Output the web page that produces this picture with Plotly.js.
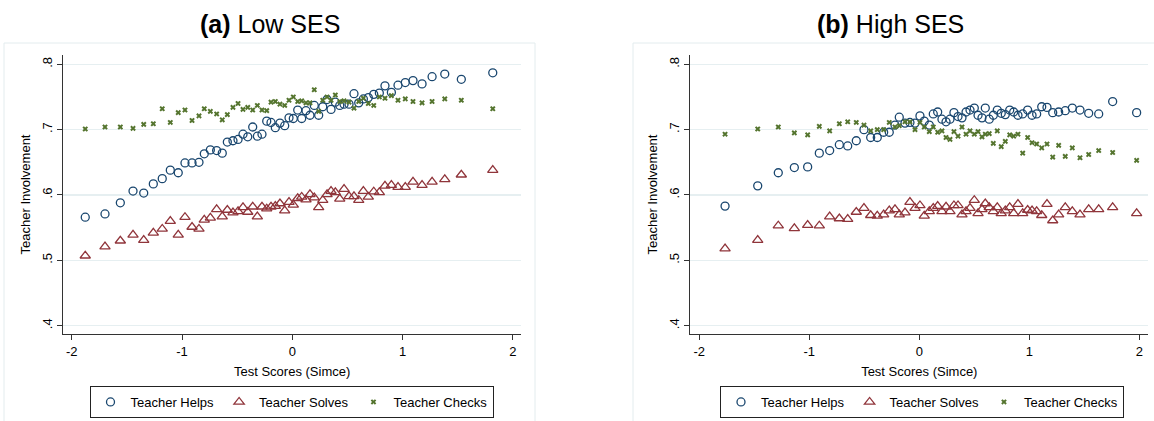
<!DOCTYPE html>
<html>
<head>
<meta charset="utf-8">
<script src="https://cdn.plot.ly/plotly-3.0.1.min.js"></script>
<style>
  html, body { margin: 0; padding: 0; background: #fff; }
  #chart { width: 1154px; height: 421px; }
</style>
</head>
<body>
<div id="chart"></div>
<script>
// --- Data (bin means of test score vs. involvement) ---
const panelTitles = ['<b>(a)</b> Low SES', '<b>(b)</b> High SES'];
const seriesNames = ['Teacher Helps', 'Teacher Solves', 'Teacher Checks'];

const lowX = [-1.877, -1.698, -1.559, -1.444, -1.347, -1.260, -1.179, -1.106, -1.034, -0.973,
  -0.909, -0.846, -0.798, -0.743, -0.686, -0.635, -0.589, -0.538, -0.492, -0.447,
  -0.404, -0.359, -0.317, -0.275, -0.232, -0.193, -0.154, -0.112, -0.069, -0.030,
  0.009, 0.049, 0.085, 0.124, 0.160, 0.199, 0.239, 0.276, 0.315, 0.351,
  0.390, 0.430, 0.469, 0.514, 0.559, 0.602, 0.644, 0.689, 0.738, 0.789,
  0.840, 0.898, 0.958, 1.024, 1.094, 1.176, 1.267, 1.382, 1.532, 1.817];
const lowHelps = [0.566, 0.571, 0.588, 0.606, 0.603, 0.617, 0.625, 0.638, 0.634, 0.649,
  0.649, 0.650, 0.663, 0.669, 0.668, 0.664, 0.681, 0.683, 0.685, 0.693,
  0.689, 0.704, 0.690, 0.693, 0.713, 0.711, 0.703, 0.710, 0.706, 0.718,
  0.717, 0.730, 0.717, 0.729, 0.722, 0.737, 0.722, 0.735, 0.746, 0.731,
  0.742, 0.737, 0.739, 0.739, 0.755, 0.741, 0.747, 0.749, 0.754, 0.756,
  0.767, 0.757, 0.768, 0.772, 0.775, 0.770, 0.781, 0.785, 0.777, 0.787];
const lowSolves = [0.507, 0.521, 0.530, 0.539, 0.531, 0.542, 0.548, 0.560, 0.539, 0.566,
  0.551, 0.548, 0.562, 0.565, 0.578, 0.567, 0.577, 0.573, 0.575, 0.581,
  0.574, 0.582, 0.567, 0.582, 0.579, 0.582, 0.583, 0.587, 0.576, 0.589,
  0.585, 0.595, 0.597, 0.593, 0.601, 0.596, 0.581, 0.592, 0.601, 0.606,
  0.604, 0.594, 0.609, 0.598, 0.598, 0.592, 0.606, 0.597, 0.605, 0.604,
  0.614, 0.615, 0.612, 0.612, 0.620, 0.615, 0.620, 0.624, 0.631, 0.638];
const lowChecks = [0.701, 0.704, 0.704, 0.702, 0.708, 0.709, 0.732, 0.711, 0.726, 0.730,
  0.714, 0.721, 0.732, 0.728, 0.724, 0.715, 0.723, 0.734, 0.740, 0.731,
  0.734, 0.730, 0.737, 0.730, 0.729, 0.742, 0.743, 0.739, 0.737, 0.745,
  0.750, 0.743, 0.744, 0.741, 0.741, 0.761, 0.728, 0.745, 0.750, 0.745,
  0.753, 0.743, 0.744, 0.742, 0.733, 0.743, 0.748, 0.740, 0.737, 0.750,
  0.748, 0.752, 0.745, 0.747, 0.743, 0.741, 0.743, 0.747, 0.745, 0.732];

const highX = [-1.766, -1.469, -1.282, -1.136, -1.015, -0.909, -0.815, -0.727, -0.651, -0.573,
  -0.503, -0.442, -0.382, -0.324, -0.273, -0.221, -0.182, -0.130, -0.085, -0.039,
  0.006, 0.045, 0.091, 0.127, 0.167, 0.206, 0.243, 0.279, 0.315, 0.352,
  0.388, 0.425, 0.461, 0.500, 0.534, 0.570, 0.600, 0.636, 0.673, 0.709,
  0.745, 0.782, 0.822, 0.858, 0.897, 0.940, 0.985, 1.025, 1.067, 1.113,
  1.161, 1.213, 1.267, 1.327, 1.391, 1.461, 1.540, 1.631, 1.758, 1.976];
const highHelps = [0.583, 0.614, 0.634, 0.642, 0.643, 0.664, 0.668, 0.677, 0.675, 0.683,
  0.700, 0.688, 0.688, 0.696, 0.696, 0.707, 0.719, 0.710, 0.711, 0.710,
  0.721, 0.713, 0.707, 0.724, 0.727, 0.716, 0.712, 0.716, 0.726, 0.720,
  0.718, 0.727, 0.730, 0.733, 0.722, 0.718, 0.733, 0.716, 0.722, 0.730,
  0.725, 0.723, 0.730, 0.727, 0.722, 0.724, 0.730, 0.722, 0.724, 0.735,
  0.734, 0.726, 0.727, 0.729, 0.733, 0.730, 0.725, 0.724, 0.743, 0.726];
const highSolves = [0.518, 0.531, 0.553, 0.549, 0.554, 0.553, 0.567, 0.564, 0.563, 0.574,
  0.580, 0.569, 0.568, 0.570, 0.576, 0.578, 0.570, 0.573, 0.589, 0.580,
  0.584, 0.568, 0.575, 0.580, 0.583, 0.575, 0.582, 0.575, 0.584, 0.584,
  0.570, 0.575, 0.580, 0.592, 0.572, 0.578, 0.587, 0.581, 0.575, 0.581,
  0.572, 0.576, 0.581, 0.572, 0.586, 0.572, 0.577, 0.576, 0.575, 0.569,
  0.586, 0.561, 0.570, 0.581, 0.575, 0.570, 0.578, 0.578, 0.581, 0.572];
const highChecks = [0.693, 0.701, 0.704, 0.695, 0.692, 0.705, 0.698, 0.709, 0.712, 0.711,
  0.707, 0.698, 0.700, 0.700, 0.711, 0.704, 0.706, 0.712, 0.712, 0.700,
  0.711, 0.704, 0.697, 0.704, 0.696, 0.698, 0.688, 0.685, 0.697, 0.690,
  0.704, 0.693, 0.698, 0.693, 0.697, 0.689, 0.693, 0.694, 0.679, 0.698,
  0.674, 0.682, 0.692, 0.690, 0.693, 0.664, 0.688, 0.680, 0.678, 0.672,
  0.678, 0.658, 0.676, 0.659, 0.672, 0.657, 0.662, 0.668, 0.665, 0.653];

const xTickVals = [-2, -1, 0, 1, 2];
const xTickText = ['-2', '-1', '0', '1', '2'];
const yTickVals = [0.4, 0.5, 0.6, 0.7, 0.8];
const yTickText = ['.4', '.5', '.6', '.7', '.8'];

// Stata s2color-ish palette
const colors = ['#1a476f', '#90353b', '#55752f'];
const symbols = ['circle-open', 'triangle-up-open', 'x'];
const sizes = [8, 9, 5];
const FONT = 'Liberation Sans, Arial, Helvetica, sans-serif';

function panelTraces(x, ys, axSuffix, legendId) {
  return ys.map((y, i) => ({
    x: x, y: y,
    type: 'scatter', mode: 'markers',
    name: seriesNames[i],
    xaxis: 'x' + axSuffix, yaxis: 'y' + axSuffix,
    legend: legendId,
    marker: {
      symbol: symbols[i], size: sizes[i], color: colors[i],
      line: { color: colors[i], width: i === 2 ? 0 : 1.3 }
    }
  }));
}

const traces = [
  ...panelTraces(lowX, [lowHelps, lowSolves, lowChecks], '', 'legend'),
  ...panelTraces(highX, [highHelps, highSolves, highChecks], '2', 'legend2')
];

const W = 1154, H = 421;
const px = v => v / W;
const py = v => 1 - v / H;

function xAxis(domain, range, anchor) {
  return {
    domain: domain, range: range, anchor: anchor,
    tickvals: xTickVals, ticktext: xTickText,
    ticks: 'outside', ticklen: 5, tickcolor: '#333', tickwidth: 1,
    showline: true, linecolor: '#333', linewidth: 1,
    showgrid: false, zeroline: false,
    tickfont: { family: FONT, size: 13, color: '#000' },
    title: { text: 'Test Scores (Simce)', standoff: 9, font: { family: FONT, size: 13, color: '#000' } }
  };
}
function yAxis(anchor) {
  return {
    domain: [py(334), py(55)], range: [0.3873, 0.8142], anchor: anchor,
    tickvals: yTickVals, ticktext: yTickText, tickangle: -90,
    ticks: 'outside', ticklen: 5, tickcolor: '#333', tickwidth: 1,
    showline: true, linecolor: '#333', linewidth: 1,
    showgrid: true, gridcolor: '#e6eff1', gridwidth: 1.2, zeroline: false,
    tickfont: { family: FONT, size: 13, color: '#000' },
    title: { text: 'Teacher Involvement', standoff: 6, font: { family: FONT, size: 13, color: '#000' } }
  };
}

function legendBox(cx) {
  return {
    x: px(cx), y: py(386), xanchor: 'center', yanchor: 'top',
    orientation: 'h', bordercolor: '#222', borderwidth: 1, bgcolor: '#fff',
    font: { family: FONT, size: 13, color: '#000' },
    itemwidth: 30, tracegroupgap: 0
  };
}

const layout = {
  width: W, height: H,
  margin: { l: 0, r: 0, t: 0, b: 0, autoexpand: false },
  paper_bgcolor: '#fff', plot_bgcolor: '#fff',
  font: { family: FONT },
  showlegend: true,
  xaxis: xAxis([px(63.3), px(521)], [-2.076, 2.073], 'y'),
  yaxis: yAxis('x'),
  xaxis2: xAxis([px(690.3), px(1148.3)], [-2.082, 2.082], 'y2'),
  yaxis2: yAxis('x2'),
  legend: legendBox(291.5),
  legend2: legendBox(922),
  shapes: [
    { type: 'rect', xref: 'paper', yref: 'paper', x0: px(4), x1: px(535), y0: py(440), y1: py(43),
      line: { color: '#e3ecee', width: 1 }, layer: 'below' },
    { type: 'rect', xref: 'paper', yref: 'paper', x0: px(633), x1: px(1170), y0: py(440), y1: py(43),
      line: { color: '#e3ecee', width: 1 }, layer: 'below' }
  ],
  annotations: [
    { text: panelTitles[0], xref: 'paper', yref: 'paper', x: px(270), y: py(24),
      xanchor: 'center', yanchor: 'middle', showarrow: false,
      font: { family: FONT, size: 25, color: '#000' } },
    { text: panelTitles[1], xref: 'paper', yref: 'paper', x: px(890), y: py(24),
      xanchor: 'center', yanchor: 'middle', showarrow: false,
      font: { family: FONT, size: 25, color: '#000' } }
  ]
};

Plotly.newPlot('chart', traces, layout, { displayModeBar: false, staticPlot: true });
</script>
</body>
</html>
